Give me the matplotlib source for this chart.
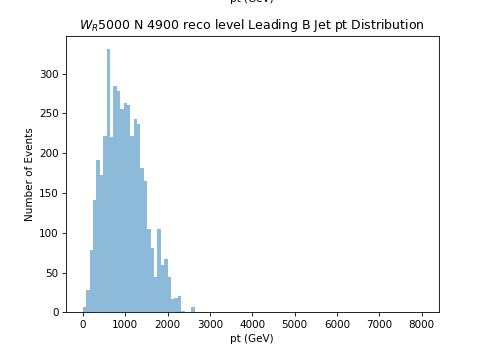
import numpy as np
import matplotlib
matplotlib.use("Agg")
import matplotlib.pyplot as plt

# counts per 80 GeV bin, starting at 0 GeV
counts = [7, 28, 78, 141, 192, 172, 221, 331, 220, 284, 278, 256, 263, 260, 221,
          243, 236, 181, 165, 105, 81, 44, 105, 60, 67, 44, 17, 18, 20, 2, 0, 0, 7]
pt_min = 0
pt_max = 8000
n_bins = 100

edges = np.linspace(pt_min, pt_max, n_bins + 1)
centers = 0.5 * (edges[:-1] + edges[1:])

fig = plt.figure(figsize=(6.4, 4.75), dpi=75.16)
ax = fig.add_axes([0.137, 0.125, 0.775, 0.775])

ax.hist(centers[:len(counts)], bins=edges, weights=counts, alpha=0.5)
ax.set_title(r'$W_R$5000 N 4900 reco level Leading B Jet pt Distribution')
ax.set_xlabel('pt (GeV)')
ax.set_ylabel('Number of Events')

# leftover label from the plot above, cut off at the top edge
fig.text(0.524, 1 - 4 / 357, 'pt (GeV)', ha='center', va='bottom')

fig.savefig('out.png', dpi=75.16)
